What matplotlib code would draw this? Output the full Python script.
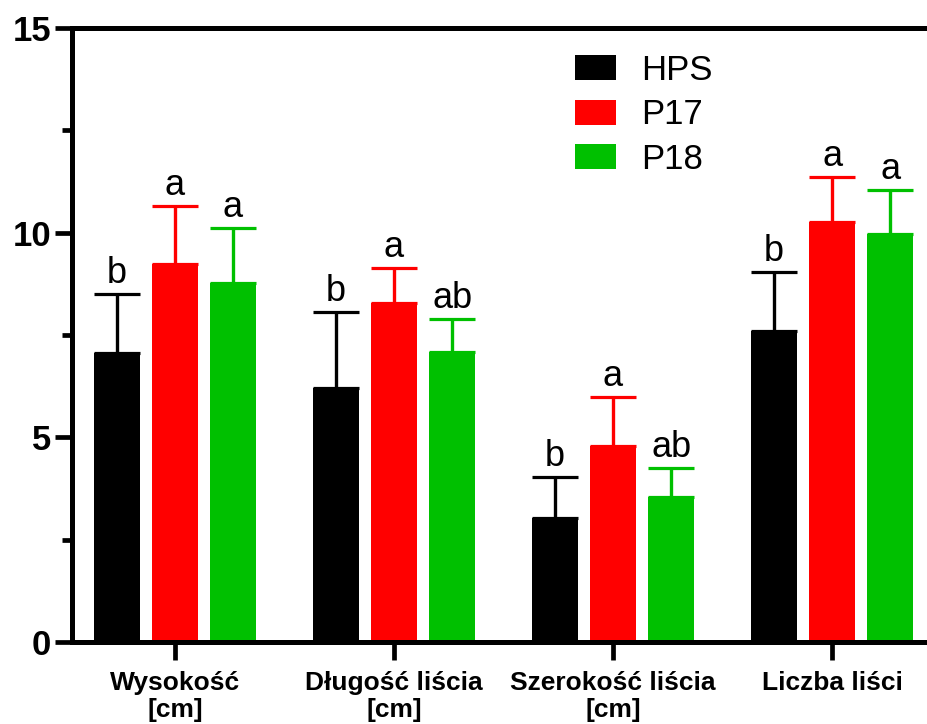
# Grouped bars with upper error bars and significance letters

import numpy as np
import matplotlib
matplotlib.use("Agg")
import matplotlib.pyplot as plt
from matplotlib.ticker import MultipleLocator

CATEGORIES = ["Wysokość\n[cm]", "Długość liścia\n[cm]", "Szerokość liścia\n[cm]", "Liczba liści"]
SERIES     = ["HPS", "P17", "P18"]
COLORS     = ["#000000", "#ff0000", "#00c000"]

MEANS = {
    "HPS": [7.07, 6.21, 3.03, 7.60],
    "P17": [9.23, 8.28, 4.79, 10.26],
    "P18": [8.77, 7.09, 3.54, 9.97],
}
ERRORS = {
    "HPS": [1.42, 1.85, 1.00, 1.44],
    "P17": [1.42, 0.86, 1.20, 1.10],
    "P18": [1.34, 0.80, 0.71, 1.07],
}
LETTERS = {
    "HPS": ["b", "b", "b", "b"],
    "P17": ["a", "a", "a", "a"],
    "P18": ["a", "ab", "ab", "a"],
}

plt.rcParams["font.family"] = ["Liberation Sans", "DejaVu Sans"]

fig = plt.figure(figsize=(9.28, 7.24), dpi=100)
ax = fig.add_axes([72.5 / 928, 1 - 642 / 724, 1 - 72.5 / 928, (642 - 28) / 724])

x = np.arange(len(CATEGORIES))
width = 0.21
step = 0.265

for i, (name, color) in enumerate(zip(SERIES, COLORS)):
    pos = x + (i - 1) * step
    means = MEANS[name]
    errs = ERRORS[name]
    ax.bar(pos, means, width, color=color, label=name, zorder=2)
    ax.errorbar(pos, means, yerr=[np.zeros(len(errs)), errs], fmt="none",
                ecolor=color, elinewidth=2.4, capsize=16.5, capthick=2.3, zorder=3)
    for p, m, e, letter in zip(pos, means, errs, LETTERS[name]):
        ax.annotate(letter, (p, m + e), xytext=(0, 8), textcoords="offset points",
                    ha="center", va="baseline", fontsize=26)

ax.set_ylim(0, 15)
ax.set_xlim(-0.468, 3.438)
ax.yaxis.set_major_locator(MultipleLocator(5))
ax.yaxis.set_minor_locator(MultipleLocator(2.5))
ax.set_xticks(x)
ax.set_xticklabels(CATEGORIES, fontsize=19, fontweight="bold", linespacing=1.15)
for lab in ax.get_yticklabels():
    lab.set_fontweight("bold")
ax.tick_params(axis="y", which="major", labelsize=25, length=12.5, width=3.4, pad=3)
ax.tick_params(axis="y", which="minor", length=7, width=3.4)
ax.tick_params(axis="x", which="major", length=13, width=3.4, pad=8)

ax.spines["right"].set_visible(False)
for side in ["left", "top", "bottom"]:
    ax.spines[side].set_linewidth(3.6)

ax.legend(loc="upper left", bbox_to_anchor=(575 / 928, 1 - 54 / 724),
          bbox_transform=fig.transFigure, frameon=False, fontsize=25,
          handlelength=1.18, handleheight=0.72, handletextpad=0.72,
          labelspacing=0.33, borderpad=0, borderaxespad=0)

fig.savefig("out.png", dpi=100)
